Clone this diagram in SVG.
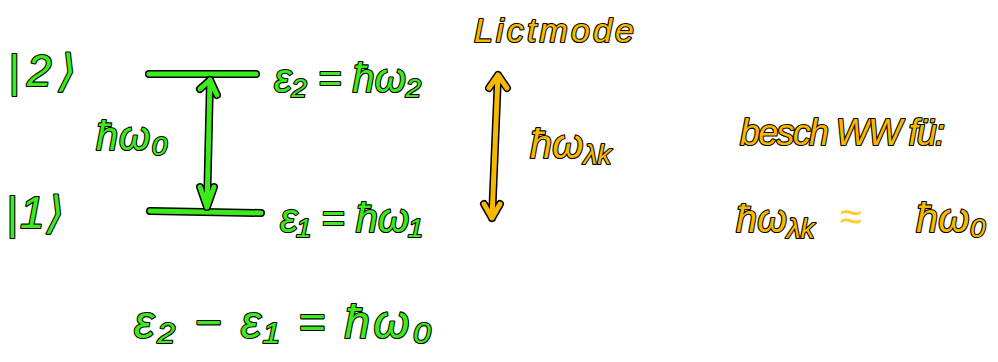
<svg xmlns="http://www.w3.org/2000/svg" width="998" height="362" viewBox="0 0 998 362">
<style>
.t{font-family:"Liberation Sans","DejaVu Sans",sans-serif;font-style:italic;paint-order:stroke;stroke:#000;stroke-width:2.2;stroke-linejoin:round}
.g{fill:#3dea1c}
.o{fill:#f6b800}
.ob{stroke:#000;stroke-width:8;fill:none;stroke-linecap:round;stroke-linejoin:round}
.gl{stroke:#3dea1c;stroke-width:5;fill:none;stroke-linecap:round;stroke-linejoin:round}
.ol{stroke:#f6b800;stroke-width:5;fill:none;stroke-linecap:round;stroke-linejoin:round}
</style>
<rect width="998" height="362" fill="#fff"/>
<g id="connectors">
<g id="level2">
<path class="ob" d="M149 74 L256 74"/><path class="gl" d="M149 74 L256 74"/>
</g>
<g id="level1">
<path class="ob" d="M150 211 L261 213"/><path class="gl" d="M150 211 L261 213"/>
</g>
<g id="transition">
<path class="ob" d="M210 80 L207 207 M200 89 L210 80 L217 95 M200 187 L207 207 L214 187"/>
<path class="gl" d="M210 80 L207 207 M200 89 L210 80 L217 95 M200 187 L207 207 L214 187"/>
</g>
<g id="lightarrow">
<path class="ob" d="M498 75 L492 218 M489 88 L498 75 L507 88 M484 204 L492 218 L500 204"/>
<path class="ol" d="M498 75 L492 218 M489 88 L498 75 L507 88 M484 204 L492 218 L500 204"/>
</g>
</g>
<g id="ket2"><text class="t g" x="8" y="86" font-size="44" textLength="68" lengthAdjust="spacing">|2⟩</text></g>
<g id="ket1"><text class="t g" x="6" y="228" font-size="44" textLength="58" lengthAdjust="spacing">|1⟩</text></g>
<g id="hw0"><text class="t g" x="96" y="150" font-size="40" textLength="72" lengthAdjust="spacing">ħω₀</text></g>
<g id="e2"><text class="t g" x="274" y="92" font-size="40">ε₂ = ħω₂</text></g>
<g id="e1"><text class="t g" x="280" y="232" font-size="40">ε₁ = ħω₁</text></g>
<g id="diff"><text class="t g" x="134" y="338" font-size="46" textLength="298" lengthAdjust="spacing">ε₂ − ε₁ = ħω₀</text></g>
<g id="lichtmode"><text class="t o" x="474" y="42" font-size="34" textLength="160" lengthAdjust="spacing">Lictmode</text></g>
<g id="hwlk"><text class="t o" x="530" y="158" font-size="40">ħω<tspan font-size="28" dy="6">λk</tspan></text></g>
<g id="besch"><text class="t o" x="740" y="145" font-size="36" textLength="205" lengthAdjust="spacing">besch WW fü:</text></g>
<g id="approx">
<text class="t o" x="736" y="232" font-size="38">ħω<tspan font-size="28" dy="6">λk</tspan></text>
<text x="840" y="230" font-size="40" font-family="Liberation Sans,sans-serif" fill="#ffcc22">≈</text>
<text class="t o" x="916" y="232" font-size="40">ħω₀</text>
</g>
</svg>
